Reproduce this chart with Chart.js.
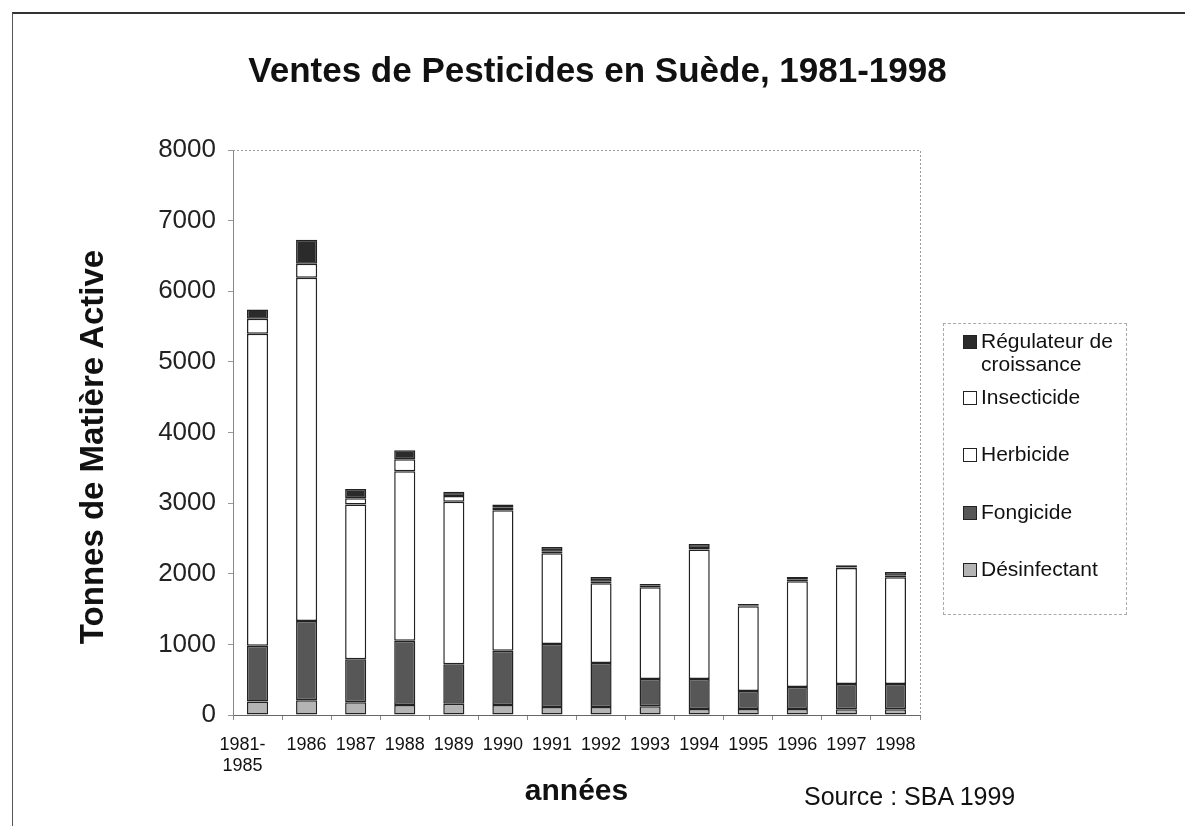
<!DOCTYPE html>
<html>
<head>
<meta charset="utf-8">
<script src="https://cdn.jsdelivr.net/npm/chart.js@4/dist/chart.umd.min.js"></script>
<style>
  html, body { margin: 0; padding: 0; background: #fff; }
  #wrap { position: relative; width: 1185px; height: 826px; overflow: hidden; font-family: "Liberation Sans", Arial, sans-serif; color: #111; }
  #frame { position: absolute; left: 12px; top: 12px; width: 1200px; height: 900px; border-top: 2px solid #333; border-left: 1px solid #555; }
  canvas { position: absolute; left: 0; top: 0; }
  #title { position: absolute; left: 0; width: 1195px; top: 50px; text-align: center; font-size: 35px; font-weight: bold; color: #111; }
  #ytitle { position: absolute; left: 92px; top: 447px; width: 600px; height: 40px; margin-left: -300px; margin-top: -20px; line-height: 40px; text-align: center; transform: rotate(-90deg); font-size: 33px; font-weight: bold; color: #111; white-space: nowrap; }
  #legend { position: absolute; left: 943px; top: 323px; width: 184px; height: 292px; border: 1px dashed #aaa; box-sizing: border-box; }
  .li { position: absolute; left: 19px; font-size: 21px; line-height: 23px; display: flex; align-items: flex-start; }
  .sw { width: 12px; height: 12px; border: 1px solid #222; margin-top: 6px; margin-right: 4px; flex: none; }
  #source { position: absolute; left: 804px; top: 782px; font-size: 25px; color: #111; }
</style>
</head>
<body>
<div id="wrap">
  <div id="frame"></div>
  <canvas id="c" width="1185" height="826"></canvas>
  <div id="title">Ventes de Pesticides en Suède, 1981-1998</div>
  <div id="ytitle">Tonnes de Matière Active</div>
  <div id="legend"></div>
  <div id="source">Source : SBA 1999</div>
</div>
<script>
const categories = [["1981-", "1985"], "1986", "1987", "1988", "1989", "1990", "1991", "1992", "1993", "1994", "1995", "1996", "1997", "1998"];
const desinfectant = [190, 210, 180, 140, 160, 140, 115, 115, 125, 85, 85, 85, 80, 80];
const fongicide    = [790, 1120, 610, 910, 560, 770, 890, 620, 385, 425, 255, 310, 360, 360];
const herbicide    = [4420, 4860, 2190, 2400, 2300, 1990, 1285, 1130, 1300, 1835, 1200, 1500, 1640, 1510];
const insecticide  = [210, 200, 90, 170, 80, 40, 20, 20, 20, 20, 15, 20, 10, 20];
const regulateur   = [130, 340, 130, 130, 60, 40, 70, 70, 25, 56, 17, 40, 30, 55];
const seriesNames = ["Désinfectant", "Fongicide", "Herbicide", "Insecticide", "Régulateur de croissance"];
const seriesColors = ["#b4b4b4", "#575757", "#ffffff", "#ffffff", "#2b2b2b"];
const yTicks = [0, 1000, 2000, 3000, 4000, 5000, 6000, 7000, 8000];

const FONT = "'Liberation Sans', Arial, sans-serif";
const seriesData = [desinfectant, fongicide, herbicide, insecticide, regulateur];

const plotBorder = {
  id: 'plotBorder',
  beforeDatasetsDraw(chart) {
    const {ctx, chartArea: a} = chart;
    ctx.save();
    ctx.strokeStyle = '#9a9a9a';
    ctx.lineWidth = 1;
    ctx.setLineDash([2, 2]);
    ctx.beginPath();
    ctx.moveTo(a.left, a.top + 0.5);
    ctx.lineTo(a.right + 0.5, a.top + 0.5);
    ctx.lineTo(a.right + 0.5, a.bottom);
    ctx.stroke();
    ctx.restore();
  }
};

const chart = new Chart(document.getElementById('c'), {
  type: 'bar',
  data: {
    labels: categories,
    datasets: seriesData.map((d, i) => ({
      label: seriesNames[i],
      data: d,
      backgroundColor: seriesColors[i],
      borderColor: '#222',
      borderWidth: 1.5,
      borderSkipped: false,
      barPercentage: 0.43,
      categoryPercentage: 1
    }))
  },
  options: {
    responsive: false,
    animation: false,
    events: [],
    layout: { padding: { left: 74, right: 265, top: 150, bottom: 14 } },
    plugins: {
      legend: { display: false },
      tooltip: { enabled: false },
      title: { display: false }
    },
    scales: {
      x: {
        stacked: true,
        grid: { display: true, drawOnChartArea: false, drawTicks: true, tickLength: 5, color: '#888', offset: true },
        border: { display: true, color: '#666', width: 1 },
        ticks: {
          color: '#111', font: { family: FONT, size: 18, lineHeight: 1.2 }, padding: 14, maxRotation: 0, autoSkip: false,
          callback(v, i) {
            const l = this.getLabelForValue(v);
            // first (two-line) label is left-aligned in the original: pad lines to the right
            return Array.isArray(l) ? l.map(s => s + '\u2007\u2007\u2007') : l;
          }
        },
        title: { display: true, text: 'années', color: '#111', font: { family: FONT, size: 30, weight: 'bold' }, padding: { top: 0, bottom: 2 } },
        afterFit(s) { s.height = 97; }
      },
      y: {
        stacked: true,
        min: 0, max: 8000,
        afterBuildTicks(s) { s.ticks = yTicks.map(v => ({ value: v })); },
        grid: { display: true, drawOnChartArea: false, drawTicks: true, tickLength: 5, color: '#999' },
        border: { display: true, color: '#888', width: 1 },
        ticks: { color: '#222', font: { family: FONT, size: 26 }, padding: 12, callback: v => String(v) },
        title: { display: false },
        afterFit(s) { s.width = 159; }
      }
    }
  },
  plugins: [plotBorder]
});

// HTML legend built from the datasets (top series first, as in the reference)
const legendTops = [5, 61, 118, 176, 233];
const legendEl = document.getElementById('legend');
const order = [4, 3, 2, 1, 0];
const legendLabels = { 4: "Régulateur de<br>croissance" };
order.forEach((idx, k) => {
  const ds = chart.data.datasets[idx];
  const item = document.createElement('div');
  item.className = 'li';
  item.style.top = legendTops[k] + 'px';
  const sw = document.createElement('div');
  sw.className = 'sw';
  sw.style.background = ds.backgroundColor;
  const tx = document.createElement('div');
  tx.innerHTML = legendLabels[idx] || ds.label;
  item.appendChild(sw);
  item.appendChild(tx);
  legendEl.appendChild(item);
});
</script>
</body>
</html>
